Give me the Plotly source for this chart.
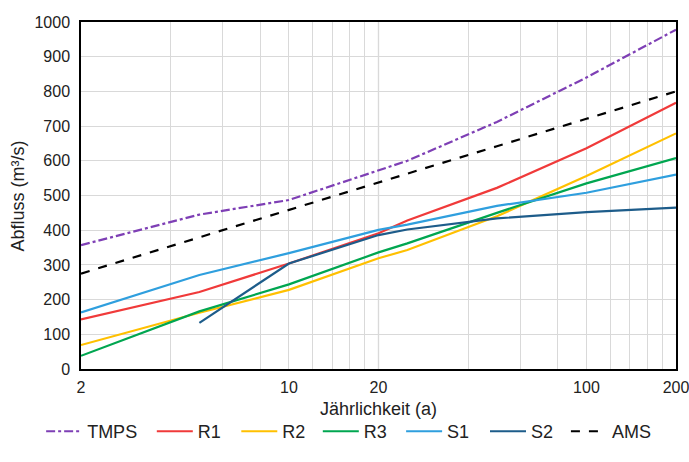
import plotly.graph_objects as go

T = [2, 5, 10, 20, 25, 50, 100, 200]
T_S2 = [5, 10, 20, 25, 50, 100, 200]

tmps = [357, 445, 487, 572, 600, 712, 840, 978]
r1 = [143, 222, 304, 391, 428, 522, 636, 767]
r2 = [69, 162, 228, 319, 343, 440, 556, 679]
r3 = [38, 166, 244, 336, 362, 450, 535, 608]
s1 = [163, 271, 334, 401, 416, 470, 508, 560]
s2 = [133, 304, 386, 402, 434, 452, 465]
ams = [275, 380, 458, 537, 563, 642, 721, 800]

grid_vals = [2, 4, 6, 8, 10, 12, 14, 16, 18, 20, 40, 60, 80, 100, 120, 140, 160, 180, 200]
label_vals = {2: "2", 10: "10", 20: "20", 100: "100", 200: "200"}
y_ticks = list(range(0, 1001, 100))

font = "Liberation Sans, Arial, sans-serif"

series = [
    ("TMPS", T, tmps, "#7E3FB5", "dashdot"),
    ("R1", T, r1, "#F03A3A", "solid"),
    ("R2", T, r2, "#FFC000", "solid"),
    ("R3", T, r3, "#00A650", "solid"),
    ("S1", T, s1, "#2F9FDE", "solid"),
    ("S2", T_S2, s2, "#1D5C8A", "solid"),
    ("AMS", T, ams, "#000000", "dash"),
]
legend_x = [-0.067, 0.119, 0.261, 0.398, 0.538, 0.679, 0.815]

fig = go.Figure()
legends = {}
for i, (name, xs, ys, col, dash) in enumerate(series):
    lname = "legend" if i == 0 else f"legend{i + 1}"
    fig.add_trace(go.Scatter(x=xs, y=ys, name=name, mode="lines", legend=lname,
                             line=dict(color=col, width=2.2, dash=dash)))
    legends[lname] = dict(orientation="h", x=legend_x[i], xanchor="left",
                          y=-0.127, yanchor="top", font=dict(size=18),
                          itemwidth=36, bgcolor="rgba(0,0,0,0)")

fig.update_layout(
    width=689, height=462,
    margin=dict(l=81, r=13, t=22, b=93, autoexpand=False),
    paper_bgcolor="white", plot_bgcolor="white",
    font=dict(family=font, size=16, color="#222222"),
    showlegend=True,
    xaxis=dict(type="log", range=[0.30103, 2.30103], automargin=False,
               tickvals=grid_vals,
               ticktext=[label_vals.get(v, "") for v in grid_vals],
               showgrid=True, gridcolor="#D9D9D9", gridwidth=1,
               showline=True, linecolor="#000000", linewidth=1.5, mirror=True,
               ticks="", tickfont=dict(size=16), zeroline=False, ticklabelstandoff=3,
               ticklabeloverflow="allow"),
    xaxis2=dict(type="log", range=[0.30103, 2.30103], overlaying="x", anchor="y",
                tickvals=[10, 20, 100], ticks="inside", ticklen=5, tickcolor="#888888",
                showticklabels=False, showgrid=False, showline=False, zeroline=False),
    yaxis=dict(range=[0, 1000], tickvals=y_ticks, automargin=False,
               showgrid=True, gridcolor="#D9D9D9", gridwidth=1,
               showline=True, linecolor="#000000", linewidth=1.5, mirror=True,
               ticks="", tickfont=dict(size=16), zeroline=False, ticklabelstandoff=6),
    annotations=[
        dict(text="Jährlichkeit (a)", xref="paper", yref="paper", x=0.5, y=-0.115,
             xanchor="center", yanchor="middle", showarrow=False, font=dict(size=18)),
        dict(text="Abfluss (m³/s)", xref="paper", yref="paper", x=-0.106, y=0.5,
             xanchor="center", yanchor="middle", showarrow=False, textangle=-90,
             font=dict(size=18)),
    ],
    **legends,
)

fig.add_shape(type="line", xref="x", yref="paper", x0=20, x1=20, y0=0, y1=1,
              line=dict(color="#BDBDBD", width=1.2), layer="below")

fig.write_html("out.html")
